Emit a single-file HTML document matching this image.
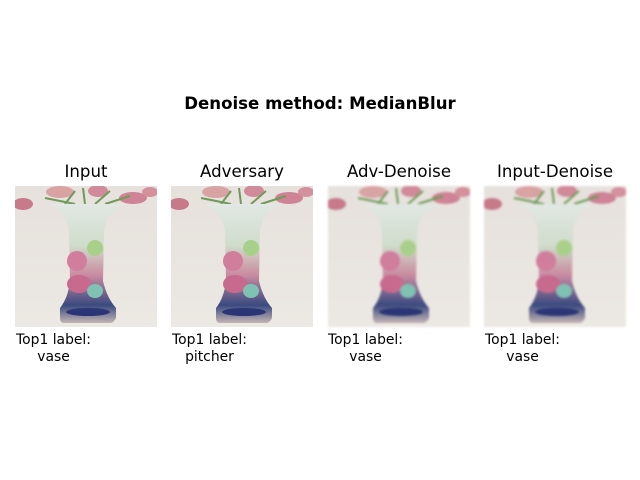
<!DOCTYPE html>
<html><head><meta charset="utf-8"><style>
body{margin:0;width:640px;height:480px;background:#fff;position:relative;font-family:"DejaVu Sans","Liberation Sans",sans-serif;overflow:hidden}
.t{position:absolute;color:#000;white-space:nowrap}
.sup{left:0;width:640px;text-align:center;top:94px;font-size:16.6px;font-weight:bold}
.ttl{font-size:16.6px;text-align:center;width:142px;top:162px}
.lbl{font-size:13.9px;line-height:17px;top:332px;text-align:center}
svg.p{position:absolute;top:186px;width:142px;height:141px}
</style></head><body>
<svg width="0" height="0" style="position:absolute">
<defs>
<linearGradient id="bg" x1="0" y1="0" x2="0" y2="1"><stop offset="0" stop-color="#e6e1dc"/><stop offset="1" stop-color="#ece8e3"/></linearGradient>
<linearGradient id="body" x1="0" y1="0" x2="0" y2="1"><stop offset="0" stop-color="#e2e8e4"/><stop offset="0.35" stop-color="#cfdccb"/><stop offset="0.6" stop-color="#c98aa0"/><stop offset="0.85" stop-color="#3a4a80"/><stop offset="1" stop-color="#c4b5b4"/></linearGradient>
<g id="vase">
<rect width="142" height="141" fill="url(#bg)"/>
<ellipse cx="8" cy="18" rx="10" ry="6" fill="#c67a8a"/>
<ellipse cx="45" cy="6" rx="14" ry="6" fill="#d9a3a4"/>
<ellipse cx="83" cy="5" rx="10" ry="6" fill="#d08a9a"/>
<ellipse cx="118" cy="12" rx="14" ry="6" fill="#cf8396"/>
<ellipse cx="135" cy="6" rx="8" ry="5" fill="#d4909c"/>
<path d="M50 18 L60 5 M70 18 L68 2 M80 18 L95 5 M60 18 L30 12 M90 18 L115 10" stroke="#6f9a5a" stroke-width="2"/>
<path d="M34 18 L112 18 Q92 24 89 45 L88 95 Q92 112 101 122 L101 132 Q99 136 96 137 L48 137 Q45 136 45 132 L45 122 Q53 112 55 95 L54 45 Q50 24 34 18Z" fill="url(#body)"/>
<ellipse cx="62" cy="75" rx="10" ry="10" fill="#d17d9c"/>
<ellipse cx="64" cy="98" rx="12" ry="9" fill="#c86a8e"/>
<ellipse cx="80" cy="62" rx="8" ry="8" fill="#a9d08a"/>
<ellipse cx="80" cy="105" rx="8" ry="7" fill="#7fc2b4"/>
<ellipse cx="73" cy="126" rx="22" ry="4" fill="#2a3575"/>
</g>
</defs></svg>
<div class="t sup">Denoise method: MedianBlur</div>

<div class="t ttl" style="left:15px">Input</div>
<svg class="p" style="left:15px" viewBox="0 0 142 141"><use href="#vase"/></svg>
<div class="t lbl" style="left:16px">Top1 label:<br>vase</div>

<div class="t ttl" style="left:171px">Adversary</div>
<svg class="p" style="left:171px" viewBox="0 0 142 141"><use href="#vase"/></svg>
<div class="t lbl" style="left:172px">Top1 label:<br>pitcher</div>

<div class="t ttl" style="left:328px">Adv-Denoise</div>
<svg class="p" style="left:328px;filter:blur(1px)" viewBox="0 0 142 141"><use href="#vase"/></svg>
<div class="t lbl" style="left:328px">Top1 label:<br>vase</div>

<div class="t ttl" style="left:484px">Input-Denoise</div>
<svg class="p" style="left:484px;filter:blur(1px)" viewBox="0 0 142 141"><use href="#vase"/></svg>
<div class="t lbl" style="left:485px">Top1 label:<br>vase</div>
</body></html>
